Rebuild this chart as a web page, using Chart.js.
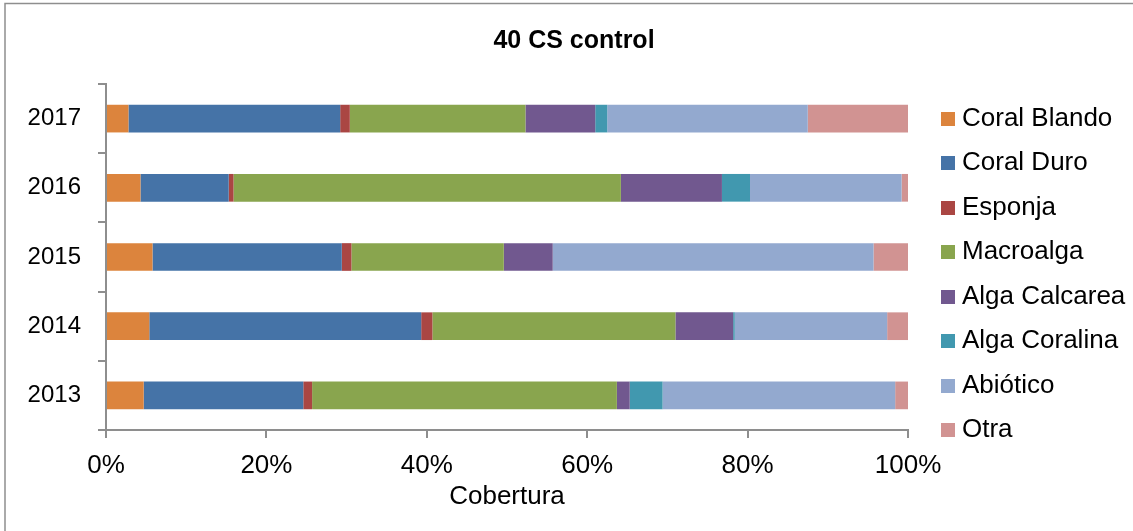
<!DOCTYPE html>
<html>
<head>
<meta charset="utf-8">
<script src="https://cdn.jsdelivr.net/npm/chart.js@4.4.1/dist/chart.umd.min.js"></script>
<style>
  html, body { margin: 0; padding: 0; background: #ffffff; }
  #wrap { position: relative; width: 1133px; height: 531px; }
</style>
</head>
<body>
<div id="wrap"><canvas id="chart" width="1133" height="531"></canvas></div>
<script>
// Years, top to bottom
const years = ['2017', '2016', '2015', '2014', '2013'];

// Cover (%) per category and year
const coralBlando  = [2.8, 4.3, 5.8, 5.4, 4.7];
const coralDuro    = [26.4, 11.0, 23.6, 33.9, 19.9];
const esponja      = [1.2, 0.6, 1.2, 1.4, 1.1];
const macroalga    = [21.9, 48.3, 19.0, 30.3, 38.0];
const algaCalcarea = [8.7, 12.6, 6.1, 7.2, 1.6];
const algaCoralina = [1.5, 3.5, 0.0, 0.2, 4.1];
const abiotico     = [25.0, 18.9, 40.0, 19.0, 29.0];
const otra         = [12.5, 0.8, 4.3, 2.6, 1.6];

const seriesNames = ['Coral Blando', 'Coral Duro', 'Esponja', 'Macroalga',
                     'Alga Calcarea', 'Alga Coralina', 'Abiótico', 'Otra'];
const seriesValues = [coralBlando, coralDuro, esponja, macroalga,
                      algaCalcarea, algaCoralina, abiotico, otra];
const seriesColors = ['#DC843D', '#4573A7', '#AA4643', '#89A54E',
                      '#71588F', '#4198AF', '#93A9CF', '#D19392'];

const xTicks = [0, 20, 40, 60, 80, 100];

const AXIS_GREY = '#8e8e8e';
const SANS = '"Liberation Sans", Arial, sans-serif';
const NARROW = '"Liberation Sans Narrow", "Liberation Sans", Arial, sans-serif';

// Legend drawn to the right of the plot area
const sideLegend = {
  id: 'sideLegend',
  afterDraw(chart) {
    const { ctx, chartArea } = chart;
    const boxX = chartArea.right + 33;
    const textX = chartArea.right + 54;
    ctx.save();
    ctx.font = '26px ' + SANS;
    ctx.textBaseline = 'middle';
    ctx.textAlign = 'left';
    chart.data.datasets.forEach((ds, i) => {
      const y = chartArea.top + 34.5 + i * 44.5;
      ctx.fillStyle = ds.backgroundColor;
      ctx.fillRect(boxX, Math.round(y - 7), 14, 14);
      ctx.fillStyle = '#000000';
      ctx.fillText(ds.label, textX, y);
    });
    ctx.restore();
  }
};

// Thin frame along the top and left edges
const frame = {
  id: 'frame',
  afterDraw(chart) {
    const { ctx, width, height } = chart;
    ctx.save();
    ctx.strokeStyle = AXIS_GREY;
    ctx.lineWidth = 1.5;
    ctx.beginPath();
    ctx.moveTo(5, height);
    ctx.lineTo(5, 3.5);
    ctx.lineTo(width, 3.5);
    ctx.stroke();
    ctx.restore();
  }
};

new Chart(document.getElementById('chart'), {
  type: 'bar',
  data: {
    labels: years,
    datasets: seriesNames.map((name, i) => ({
      label: name,
      data: seriesValues[i],
      backgroundColor: seriesColors[i],
      borderWidth: 0,
      xAxisID: 'x',
      yAxisID: 'y',
      categoryPercentage: 1.0,
      barPercentage: 0.4
    }))
  },
  options: {
    indexAxis: 'y',
    responsive: false,
    animation: false,
    layout: { padding: { left: 15, right: 0, top: 0, bottom: 0 } },
    plugins: {
      legend: { display: false },
      tooltip: { enabled: false },
      title: {
        display: true,
        text: '40 CS control',
        color: '#000000',
        font: { family: SANS, size: 25, weight: 'bold', lineHeight: 1.2 },
        padding: { top: 26.5, bottom: 27.5 }
      }
    },
    scales: {
      x: {
        type: 'linear',
        stacked: true,
        min: 0,
        max: 100,
        afterFit(scale) { scale.height = 101; },
        afterBuildTicks(scale) { scale.ticks = xTicks.map(v => ({ value: v })); },
        ticks: {
          color: '#000000',
          font: { family: NARROW, size: 26 },
          padding: 12,
          maxRotation: 0,
          callback: v => v + '%'
        },
        grid: {
          drawOnChartArea: false,
          drawTicks: true,
          tickLength: 8,
          color: AXIS_GREY,
          lineWidth: 2
        },
        border: { display: true, color: AXIS_GREY, width: 2 },
        title: {
          display: true,
          text: 'Cobertura',
          color: '#000000',
          font: { family: SANS, size: 26 },
          padding: { top: 0, bottom: 19 }
        }
      },
      y: {
        type: 'category',
        stacked: true,
        afterFit(scale) { scale.width = 91; },
        ticks: {
          color: '#000000',
          font: { family: SANS, size: 24 },
          padding: 17
        },
        grid: {
          offset: true,
          drawOnChartArea: false,
          drawTicks: true,
          tickLength: 8,
          color: AXIS_GREY,
          lineWidth: 2
        },
        border: { display: true, color: AXIS_GREY, width: 2 }
      },
      legendSpace: {
        type: 'linear',
        position: 'right',
        display: true,
        afterFit(scale) { scale.width = 225; },
        ticks: { display: false },
        grid: { display: false, drawTicks: false },
        border: { display: false },
        title: { display: false }
      }
    }
  },
  plugins: [sideLegend, frame]
});
</script>
</body>
</html>
